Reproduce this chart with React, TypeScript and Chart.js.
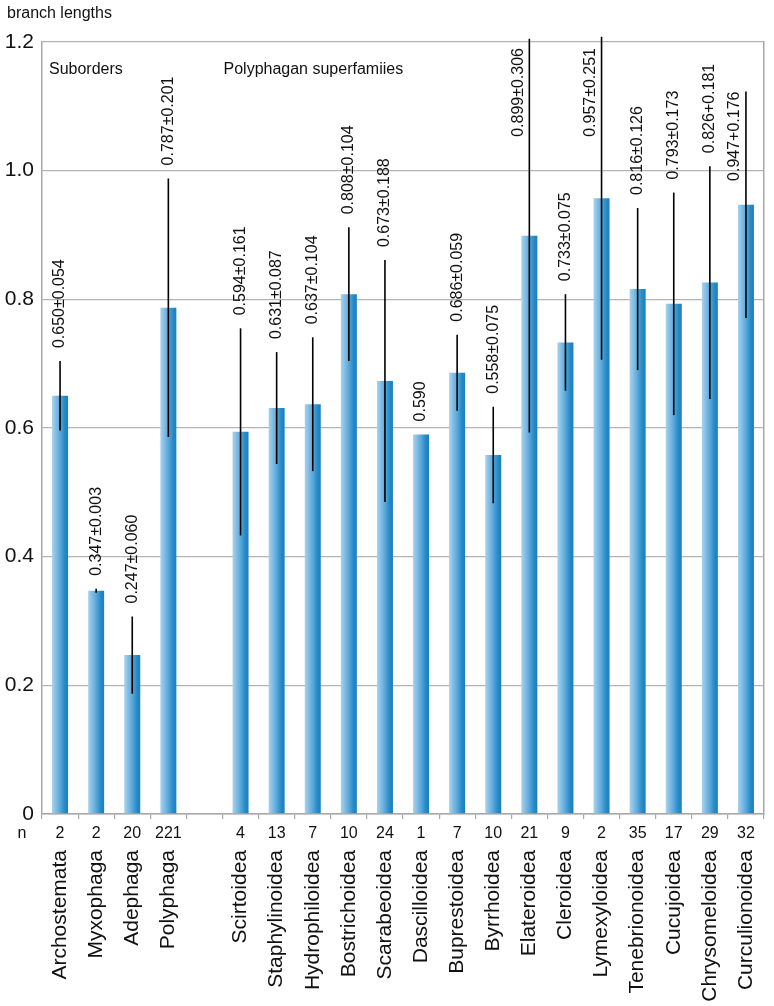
import React, { useEffect, useRef } from 'react';
import { Chart, registerables } from 'chart.js';

Chart.register(...registerables);

const categories = [
  'Archostemata', 'Myxophaga', 'Adephaga', 'Polyphaga', '',
  'Scirtoidea', 'Staphylinoidea', 'Hydrophiloidea', 'Bostrichoidea', 'Scarabeoidea',
  'Dascilloidea', 'Buprestoidea', 'Byrrhoidea', 'Elateroidea', 'Cleroidea',
  'Lymexyloidea', 'Tenebrionoidea', 'Cucujoidea', 'Chrysomeloidea', 'Curculionoidea',
];
const nCounts = ['2', '2', '20', '221', '', '4', '13', '7', '10', '24', '1', '7', '10', '21', '9', '2', '35', '17', '29', '32'];
const means = [0.650, 0.347, 0.247, 0.787, null, 0.594, 0.631, 0.637, 0.808, 0.673, 0.590, 0.686, 0.558, 0.899, 0.733, 0.957, 0.816, 0.793, 0.826, 0.947];
const sds = [0.054, 0.003, 0.060, 0.201, null, 0.161, 0.087, 0.104, 0.104, 0.188, null, 0.059, 0.075, 0.306, 0.075, 0.251, 0.126, 0.173, 0.181, 0.176];
const valueLabels = [
  '0.650±0.054', '0.347±0.003', '0.247±0.060', '0.787±0.201', '',
  '0.594±0.161', '0.631±0.087', '0.637±0.104', '0.808±0.104', '0.673±0.188',
  '0.590', '0.686±0.059', '0.558±0.075', '0.899±0.306', '0.733±0.075',
  '0.957±0.251', '0.816±0.126', '0.793±0.173', '0.826+0.181', '0.947+0.176',
];
const yAxisTitle = 'branch lengths';
const groupTitles = ['Suborders', 'Polyphagan superfamiies'];
const groupStarts = [0, 5];
const nRowTitle = 'n';

const FONT = '"Liberation Sans", Arial, sans-serif';

const annotate = {
  id: 'annotate',
  afterDatasetsDraw(chart: any) {
    const { ctx, chartArea, scales } = chart;
    const xs = scales.x;
    const ys = scales.y;
    ctx.save();
    ctx.fillStyle = '#111';
    ctx.font = `16px ${FONT}`;
    ctx.textBaseline = 'middle';
    ctx.textAlign = 'left';
    means.forEach((m, i) => {
      if (m == null) return;
      const txt = valueLabels[i];
      if (!txt) return;
      const cx = xs.getPixelForValue(i);
      const top = ys.getPixelForValue(m + (sds[i] ?? 0));
      const w = ctx.measureText(txt).width;
      let px = cx;
      let start = top - 13;
      if (start - w < chartArea.top + 4) {
        px = cx - 11;
        start = Math.max(top, chartArea.top + 6) + w;
      }
      ctx.save();
      ctx.translate(px, start);
      ctx.rotate(-Math.PI / 2);
      ctx.fillText(txt, 0, 0);
      ctx.restore();
    });
    ctx.restore();
  },
  afterDraw(chart: any) {
    const { ctx, chartArea, scales } = chart;
    const xs = scales.x;
    ctx.save();
    ctx.fillStyle = '#111';
    ctx.font = `16px ${FONT}`;
    ctx.textBaseline = 'alphabetic';
    ctx.textAlign = 'left';
    ctx.fillText(yAxisTitle, 7, 18);
    const slot = xs.width / categories.length;
    groupTitles.forEach((t, k) => {
      const gx = groupStarts[k] === 0 ? chartArea.left + 7 : xs.getPixelForValue(groupStarts[k]) - slot / 2 + 1;
      ctx.fillText(t, gx, chartArea.top + 32);
    });
    ctx.textAlign = 'center';
    const ny = xs.top + 24;
    ctx.fillText(nRowTitle, 22, ny);
    nCounts.forEach((n, i) => {
      if (!n) return;
      ctx.fillText(n, xs.getPixelForValue(i), ny);
    });
    ctx.restore();
  },
};

export default function App() {
  const ref = useRef<HTMLCanvasElement | null>(null);
  useEffect(() => {
    if (!ref.current) return;
    const barColor = (c: any) => {
      const chart = c.chart;
      const xs = chart.scales?.x;
      if (!xs || c.dataIndex == null || !chart.chartArea) return '#3a96cf';
      const cx = xs.getPixelForValue(c.dataIndex);
      const g = chart.ctx.createLinearGradient(cx - 8, 0, cx + 8, 0);
      g.addColorStop(0, '#a9d2ee');
      g.addColorStop(0.45, '#62acdc');
      g.addColorStop(0.8, '#2489c7');
      g.addColorStop(1, '#1c7fbe');
      return g;
    };
    const chart = new Chart(ref.current, {
      type: 'bar',
      data: {
        labels: categories,
        datasets: [
          {
            label: 'error',
            data: means.map((m, i) => (m == null || sds[i] == null ? null : [m - (sds[i] as number), m + (sds[i] as number)])) as any,
            backgroundColor: '#000',
            grouped: false,
            maxBarThickness: 1.6,
            order: 0,
            clip: false as any,
          },
          {
            label: 'branch lengths',
            data: means as any,
            backgroundColor: barColor as any,
            grouped: false,
            maxBarThickness: 16,
            order: 1,
          },
        ],
      },
      options: {
        animation: false,
        responsive: false,
        maintainAspectRatio: false,
        devicePixelRatio: 1,
        layout: { padding: { top: 42, left: 0, right: 0, bottom: 0 } },
        plugins: {
          legend: { display: false },
          tooltip: { enabled: false },
        },
        scales: {
          x: {
            type: 'category',
            offset: true,
            afterFit: (s: any) => {
              s.height = 192;
              s.paddingLeft = 0;
              s.paddingRight = 0;
            },
            grid: {
              display: true,
              offset: true,
              drawOnChartArea: false,
              drawTicks: true,
              tickLength: 5,
              color: '#a8a8a8',
              lineWidth: 1.2,
            },
            border: { display: true, color: '#a8a8a8', width: 1.5 },
            ticks: {
              autoSkip: false,
              minRotation: 90,
              maxRotation: 90,
              padding: 31,
              color: '#111',
              font: { family: FONT, size: 21 },
            },
          },
          y: {
            type: 'linear',
            position: 'left',
            min: 0,
            max: 1.2,
            afterFit: (s: any) => { s.width = 42; },
            grid: { color: '#b4b4b4', lineWidth: 1.3, drawTicks: false },
            border: { display: true, color: '#a8a8a8', width: 1.5 },
            ticks: {
              stepSize: 0.2,
              padding: 8,
              color: '#111',
              font: { family: FONT, size: 21 },
              callback: (v: any) => (Number(v) === 0 ? '0' : Number(v).toFixed(1)),
            },
          },
          y2: {
            type: 'linear',
            position: 'right',
            min: 0,
            max: 1.2,
            afterFit: (s: any) => { s.width = 10; },
            grid: { display: false },
            border: { display: true, color: '#a8a8a8', width: 1.5 },
            ticks: { display: false },
          },
        },
      },
      plugins: [annotate],
    });
    return () => chart.destroy();
  }, []);
  return (
    <div style={{ position: 'absolute', left: 0, top: 0, width: 774, height: 1006, background: '#fff' }}>
      <canvas ref={ref} width={774} height={1006} style={{ display: 'block' }} />
    </div>
  );
}
